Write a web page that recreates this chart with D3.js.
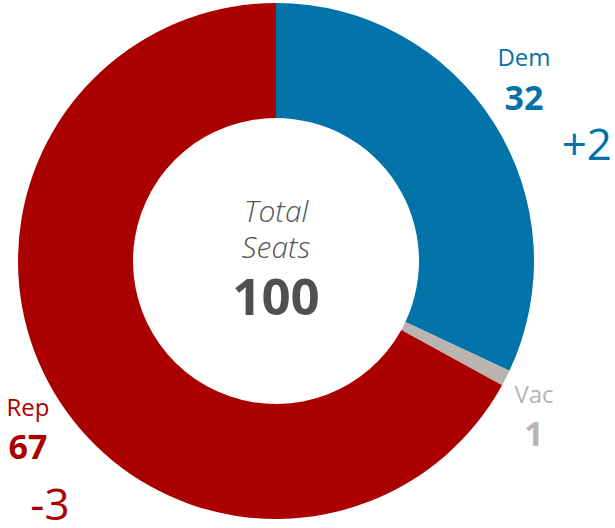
<!DOCTYPE html>
<html>
<head>
<meta charset="utf-8">
<script src="https://cdn.jsdelivr.net/npm/d3@7"></script>
<style>
  html, body { margin: 0; padding: 0; background: #fff; }
  svg { display: block; }
  text { font-family: "Century Gothic", "Open Sans", "DejaVu Sans", sans-serif; }
</style>
</head>
<body>
<svg id="chart" width="615" height="528"></svg>
<script>
const parties = ["Dem", "Vac", "Rep"];
const seats = [32, 1, 67];
const changes = ["+2", "", "-3"];
const colors = ["#0273A9", "#BAB3B0", "#AB0000"];
const totalLabel = ["Total", "Seats"];
const totalSeats = 100;

const svg = d3.select("#chart");
const cx = 276, cy = 261;
const outerR = 258, innerR = 143;

const data = parties.map((p, i) => ({ party: p, seats: seats[i], change: changes[i], color: colors[i] }));

const pie = d3.pie().value(d => d.seats).sort(null);
const arc = d3.arc().innerRadius(innerR).outerRadius(outerR);

const g = svg.append("g").attr("transform", `translate(${cx},${cy})`);
g.selectAll("path")
  .data(pie(data))
  .join("path")
  .attr("d", arc)
  .attr("fill", d => d.data.color);

// Center text
const center = svg.append("g").attr("transform", `translate(${cx},0)`);
center.append("text").attr("x", 0).attr("y", 222)
  .attr("text-anchor", "middle").attr("font-size", 30).attr("font-style", "italic")
  .attr("font-weight", 300).attr("fill", "#555").text(totalLabel[0]);
center.append("text").attr("x", 0).attr("y", 258)
  .attr("text-anchor", "middle").attr("font-size", 30).attr("font-style", "italic")
  .attr("font-weight", 300).attr("fill", "#555").text(totalLabel[1]);
center.append("text").attr("x", 0).attr("y", 315)
  .attr("text-anchor", "middle").attr("font-size", 51).attr("font-weight", 700)
  .attr("fill", "#505050").text(totalSeats);

// Party labels
const labelPos = {
  Dem: { x: 524, nameY: 66, valY: 110, chX: 612, chY: 160, chAnchor: "end" },
  Vac: { x: 534, nameY: 403, valY: 446 },
  Rep: { x: 28, nameY: 416, valY: 459, chX: 50, chY: 520, chAnchor: "middle" }
};

data.forEach(d => {
  const p = labelPos[d.party];
  svg.append("text").attr("x", p.x).attr("y", p.nameY)
    .attr("text-anchor", "middle").attr("font-size", 24).attr("font-weight", 400)
    .attr("fill", d.color).text(d.party);
  svg.append("text").attr("x", p.x).attr("y", p.valY)
    .attr("text-anchor", "middle").attr("font-size", 34).attr("font-weight", 700)
    .attr("fill", d.color).text(d.seats);
  if (d.change) {
    svg.append("text").attr("x", p.chX).attr("y", p.chY)
      .attr("text-anchor", p.chAnchor).attr("font-size", 44).attr("font-weight", 400)
      .attr("fill", d.color).text(d.change);
  }
});
</script>
</body>
</html>
